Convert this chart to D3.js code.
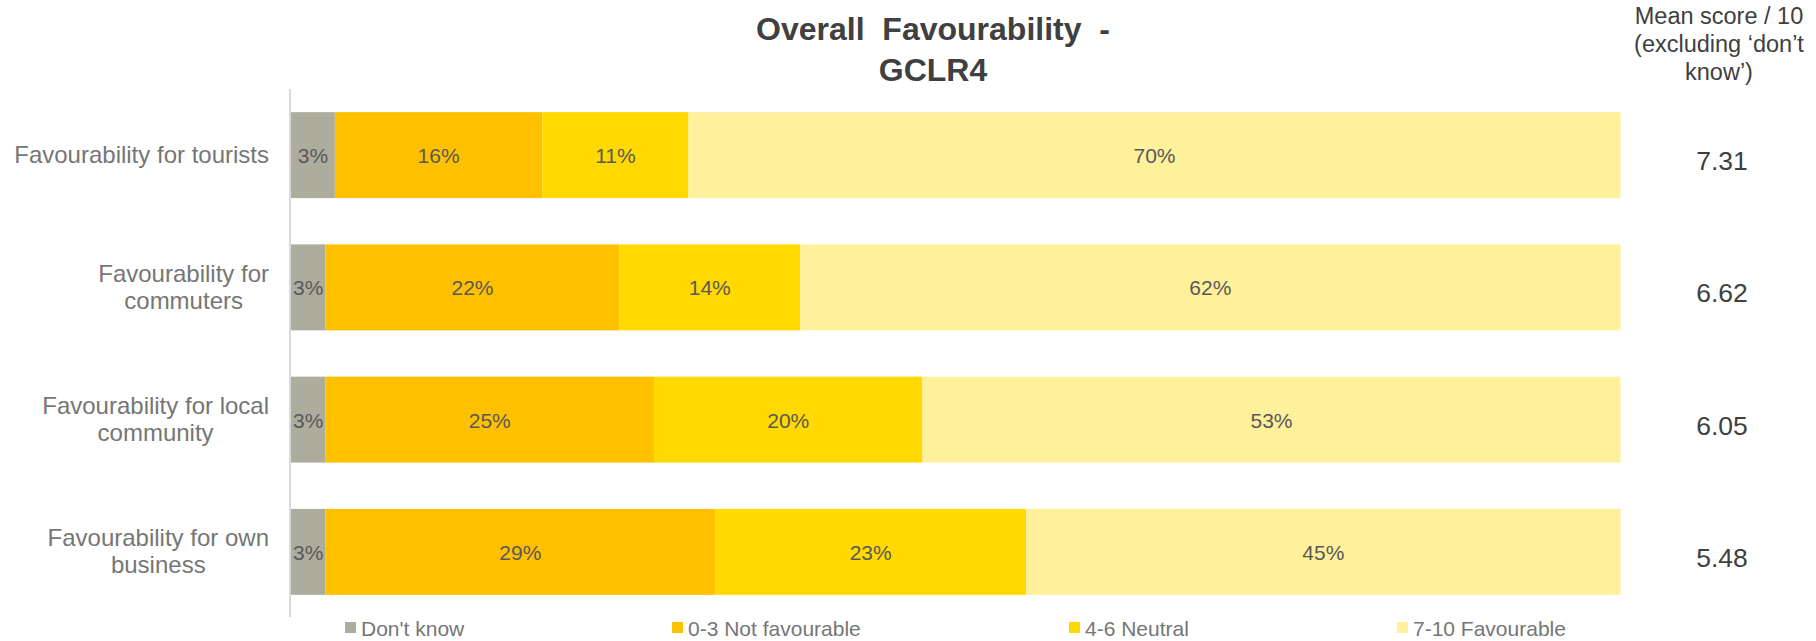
<!DOCTYPE html>
<html>
<head>
<meta charset="utf-8">
<script src="https://cdn.jsdelivr.net/npm/d3@7"></script>
<style>
  html, body { margin: 0; padding: 0; background: #fff; }
  svg { display: block; font-family: "Liberation Sans", Arial, sans-serif; }
</style>
</head>
<body>
<svg id="chart" width="1816" height="641"></svg>
<script>
// ---- Data ----
const categories = [
  "Favourability for tourists",
  "Favourability for commuters",
  "Favourability for local community",
  "Favourability for own business"
];
const categoryLines = [
  ["Favourability for tourists"],
  ["Favourability for", "commuters"],
  ["Favourability for local", "community"],
  ["Favourability for own", "business"]
];
const seriesNames = ["Don't know", "0-3 Not favourable", "4-6 Neutral", "7-10 Favourable"];
const dontKnow     = [3.3, 2.6, 2.6, 2.6];
const notFav       = [15.6, 22.1, 24.7, 29.3];
const neutral      = [11.0, 13.6, 20.2, 23.4];
const favourable   = [70.1, 61.7, 52.5, 44.7];
const meanScores   = ["7.31", "6.62", "6.05", "5.48"];
const titleLines   = ["Overall  Favourability  -", "GCLR4"];
const meanHeader   = ["Mean score / 10", "(excluding \u2018don\u2019t", "know\u2019)"];
const colors = ["#ADAD9E", "#FFC000", "#FFD900", "#FFF09B"];

// ---- Build table ----
const keys = seriesNames;
const table = categories.map((c, i) => ({
  cat: c,
  [keys[0]]: dontKnow[i],
  [keys[1]]: notFav[i],
  [keys[2]]: neutral[i],
  [keys[3]]: favourable[i]
}));
const stacked = d3.stack().keys(keys)(table);

const svg = d3.select("#chart");

const x = d3.scaleLinear().domain([0, 100]).range([291, 1620.5]);
const y = d3.scaleBand().domain(categories).range([89, 618])
  .paddingInner(0.35).paddingOuter(0.175);
const color = d3.scaleOrdinal().domain(keys).range(colors);

// Title
svg.append("text")
  .attr("x", 933).attr("text-anchor", "middle")
  .attr("font-size", 32).attr("font-weight", "bold").attr("fill", "#404040")
  .style("white-space", "pre")
  .selectAll("tspan").data(titleLines).join("tspan")
  .attr("x", 933).attr("y", (d, i) => 40 + i * 41)
  .text(d => d);

// Mean header
svg.append("text")
  .attr("text-anchor", "middle").attr("font-size", 23.5).attr("fill", "#404040")
  .selectAll("tspan").data(meanHeader).join("tspan")
  .attr("x", 1719).attr("y", (d, i) => 24 + i * 28)
  .text(d => d);

// Bars
const layer = svg.append("g").selectAll("g").data(stacked).join("g")
  .attr("fill", d => color(d.key));
layer.selectAll("rect").data(d => d).join("rect")
  .attr("x", d => x(d[0]))
  .attr("y", d => y(d.data.cat))
  .attr("width", d => x(d[1]) - x(d[0]))
  .attr("height", y.bandwidth());

// Bar labels
const lab = svg.append("g").attr("font-size", 21).attr("fill", "#595959").attr("text-anchor", "middle");
stacked.forEach(s => {
  lab.selectAll(null).data(s).join("text")
    .attr("x", d => (x(d[0]) + x(d[1])) / 2)
    .attr("y", d => y(d.data.cat) + y.bandwidth() / 2 + 8)
    .text(d => Math.round(d[1] - d[0] + 1e-9) + "%");
});

// Axis line
svg.append("line")
  .attr("x1", 290).attr("x2", 290)
  .attr("y1", y.range()[0]).attr("y2", y.range()[1] - 1)
  .attr("stroke", "#D9D9D9").attr("stroke-width", 2);

// Category labels (centered lines, block right-aligned)
const catG = svg.append("g").attr("font-size", 24).attr("fill", "#767676");
categories.forEach((c, i) => {
  const lines = categoryLines[i];
  const cy = y(c) + y.bandwidth() / 2;
  const t = catG.append("text").attr("text-anchor", "middle");
  const tspans = t.selectAll("tspan").data(lines).join("tspan")
    .attr("y", (d, j) => cy + 8 - (lines.length - 1) * 27 / 2 + j * 27)
    .text(d => d);
  let maxW = 0;
  tspans.each(function () { maxW = Math.max(maxW, this.getComputedTextLength()); });
  tspans.attr("x", 269 - maxW / 2);
});

// Mean scores
svg.append("g").attr("font-size", 26.5).attr("fill", "#404040").attr("text-anchor", "middle")
  .selectAll("text").data(categories).join("text")
  .attr("x", 1722)
  .attr("y", (d, i) => y(d) + y.bandwidth() / 2 + 15)
  .text((d, i) => meanScores[i]);

// Legend
const legendX = [345, 672, 1069, 1397];
const leg = svg.append("g").selectAll("g").data(keys).join("g")
  .attr("transform", (d, i) => `translate(${legendX[i]},622)`);
leg.append("rect").attr("width", 11).attr("height", 11).attr("fill", d => color(d));
leg.append("text").attr("x", 16).attr("y", 14).attr("font-size", 21).attr("fill", "#767676").text(d => d);
</script>
</body>
</html>
